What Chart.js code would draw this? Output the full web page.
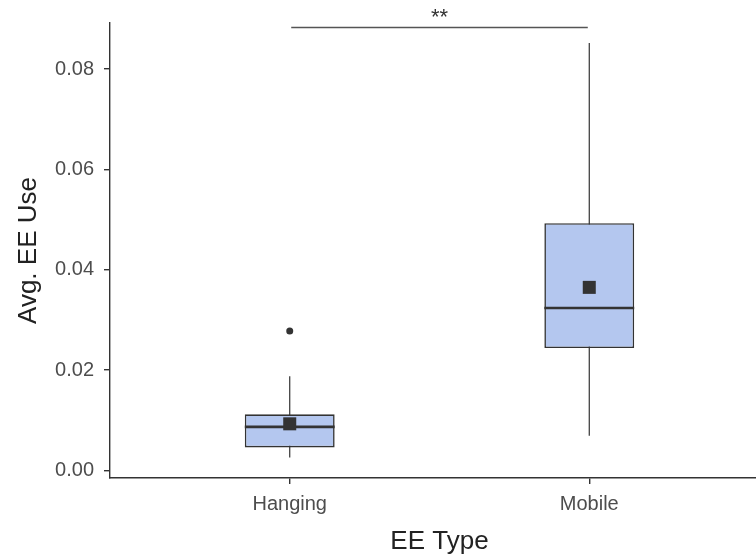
<!DOCTYPE html>
<html>
<head>
<meta charset="utf-8">
<script src="https://cdn.jsdelivr.net/npm/chart.js@4/dist/chart.umd.min.js"></script>
<style>
  html, body { margin: 0; padding: 0; overflow: hidden; background: #ffffff; }
  #wrap { width: 769px; height: 556px; }
  #chart { display: block; width: 769px; height: 556px; }
</style>
</head>
<body>
<div id="wrap"><canvas id="chart" width="769" height="556"></canvas></div>
<script>
// Box-plot summaries for average EE use by EE type
const categories = ['Hanging', 'Mobile'];
const q1 = [0.0046, 0.0244];
const median = [0.0087, 0.0324];
const q3 = [0.0112, 0.0493];
const whiskerLow = [0.0026, 0.0069];
const whiskerHigh = [0.0188, 0.0852];
const means = [0.0093, 0.0365];
const outliers = [[0.0278], []];
const yTicks = [0, 0.02, 0.04, 0.06, 0.08];

// Significance bracket between the two groups
const sigPair = [1.005, 1.995];
const sigY = 0.0883;
const sigLabel = '**';

const ink = '#333333';
const boxFill = '#b4c7ef';
const boxHalf = 0.15;
const fontFamily = '"Liberation Sans", Arial, sans-serif';

const positions = categories.map((_, i) => i + 1);

const whiskerSets = positions.map((x, i) => ({
  type: 'line',
  data: [{ x, y: whiskerLow[i] }, { x, y: whiskerHigh[i] }],
  borderColor: ink, borderWidth: 1.2, pointRadius: 0, order: 6
}));

const medianSets = positions.map((x, i) => ({
  type: 'line',
  data: [{ x: x - boxHalf, y: median[i] }, { x: x + boxHalf, y: median[i] }],
  borderColor: ink, borderWidth: 2.6, pointRadius: 0, order: 3
}));

const outlierPoints = [];
outliers.forEach((vals, i) => vals.forEach(v => outlierPoints.push({ x: positions[i], y: v })));

// Writes the significance stars above the bracket
const sigText = {
  id: 'sigText',
  afterDatasetsDraw(chart) {
    const { ctx, scales: { x, y } } = chart;
    const cx = x.getPixelForValue((sigPair[0] + sigPair[1]) / 2);
    const cy = y.getPixelForValue(sigY);
    ctx.save();
    ctx.fillStyle = ink;
    ctx.font = '22px ' + fontFamily;
    ctx.textAlign = 'center';
    ctx.textBaseline = 'alphabetic';
    ctx.fillText(sigLabel, cx, cy - 4);
    ctx.restore();
  }
};

new Chart(document.getElementById('chart'), {
  type: 'bar',
  data: {
    datasets: [
      {
        type: 'bar',
        data: positions.map((x, i) => ({ x, y: [q1[i], q3[i]] })),
        backgroundColor: boxFill,
        borderColor: ink,
        borderWidth: 1.6,
        borderSkipped: false,
        categoryPercentage: 1,
        barPercentage: boxHalf * 2,
        order: 4
      },
      ...whiskerSets,
      ...medianSets,
      {
        type: 'line',
        data: positions.map((x, i) => ({ x, y: means[i] })),
        showLine: false,
        pointStyle: 'rect',
        pointRadius: 9.2,
        pointBorderWidth: 0,
        pointBackgroundColor: ink,
        order: 2
      },
      {
        type: 'line',
        data: outlierPoints,
        showLine: false,
        pointStyle: 'circle',
        pointRadius: 3.5,
        pointBorderWidth: 0,
        pointBackgroundColor: ink,
        order: 2
      },
      {
        type: 'line',
        data: [{ x: sigPair[0], y: sigY }, { x: sigPair[1], y: sigY }],
        borderColor: '#555555', borderWidth: 1.4, pointRadius: 0, order: 1
      }
    ]
  },
  options: {
    responsive: false,
    animation: false,
    events: [],
    layout: { autoPadding: false, padding: { top: 23, right: 0, bottom: 0, left: 0 } },
    plugins: { legend: { display: false }, tooltip: { enabled: false } },
    scales: {
      x: {
        type: 'linear',
        min: 0.4,
        max: 2.6,
        offset: false,
        afterBuildTicks(scale) { scale.ticks = positions.map(v => ({ value: v })); },
        afterFit(scale) {
          scale.height = 78;
          scale.paddingLeft = 0;
          scale.paddingRight = 0;
        },
        ticks: {
          callback: v => categories[Math.round(v) - 1],
          color: '#4d4d4d',
          font: { family: fontFamily, size: 20 },
          padding: 8,
          maxRotation: 0
        },
        grid: { offset: false, drawOnChartArea: false, drawTicks: true, tickLength: 6, color: ink, lineWidth: 1.4 },
        border: { display: true, color: ink, width: 1.4 },
        title: {
          display: true,
          text: 'EE Type',
          color: '#222222',
          font: { family: fontFamily, size: 26, lineHeight: 1.1 },
          padding: { top: 0, bottom: 0 }
        }
      },
      y: {
        type: 'linear',
        min: -0.0015,
        max: 0.0892,
        afterBuildTicks(scale) { scale.ticks = yTicks.map(v => ({ value: v })); },
        afterFit(scale) {
          scale.width = 110;
          scale.paddingTop = 0;
          scale.paddingBottom = 0;
        },
        ticks: {
          callback: v => v.toFixed(2),
          color: '#4d4d4d',
          font: { family: fontFamily, size: 20 },
          padding: 10
        },
        grid: { drawOnChartArea: false, drawTicks: true, tickLength: 6, color: ink, lineWidth: 1.4 },
        border: { display: true, color: ink, width: 1.4 },
        title: {
          display: true,
          text: 'Avg. EE Use',
          color: '#222222',
          font: { family: fontFamily, size: 26, lineHeight: 1.2 },
          padding: { top: 13, bottom: 0 }
        }
      }
    }
  },
  plugins: [sigText]
});
</script>
</body>
</html>
